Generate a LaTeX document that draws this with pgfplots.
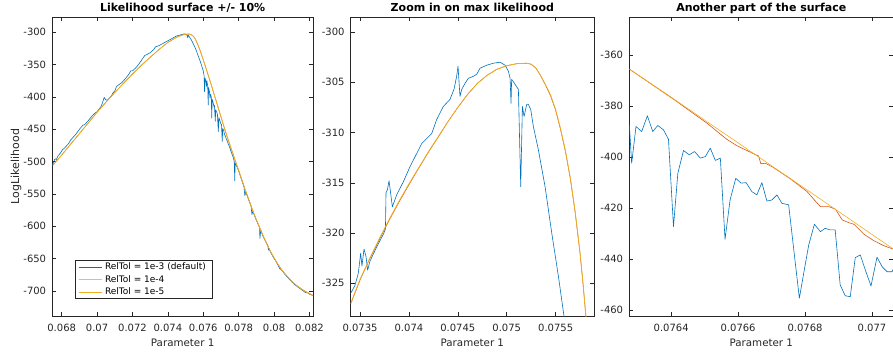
\documentclass[border=0pt]{standalone}
\usepackage{pgfplots}
\pgfplotsset{compat=1.18}
\usepackage{fontspec}
\setmainfont{DejaVu Sans}
\definecolor{mblue}{rgb}{0,0.447,0.741}
\definecolor{morange}{rgb}{0.85,0.325,0.098}
\definecolor{myellow}{rgb}{0.929,0.694,0.125}
\definecolor{axgray}{rgb}{0.15,0.15,0.15}

\pgfplotstableread{
x y
0.0675 -506
0.0680 -490
0.0685 -473.5
0.0690 -457
0.0695 -440.5
0.0700 -424
0.0705 -408.5
0.0710 -393.5
0.0715 -379
0.0720 -365
0.0725 -351.5
0.0730 -339
0.0735 -327
0.0740 -316
0.0745 -308
0.0748 -304.8
0.0750 -303.4
0.0752 -303.1
0.0753 -303.8
0.0754 -305.5
0.0755 -308.5
0.0756 -313.5
0.0757 -320
0.0758 -327
0.0760 -343
0.0762 -360
0.0764 -377
0.0766 -395
0.0768 -413
0.0770 -431
0.0772 -449
0.0774 -466
0.0776 -482
0.0778 -498
0.0780 -514
0.0782 -530
0.0784 -546
0.0786 -561
0.0788 -576
0.0790 -590
0.0792 -603
0.0794 -616
0.0796 -628
0.0798 -639
0.0800 -649
0.0802 -658
0.0804 -666
0.0806 -673
0.0808 -679
0.0810 -685
0.0812 -690
0.0814 -694
0.0816 -698
0.0818 -701
0.0820 -704
0.0822 -707
}\smoothA

\pgfplotstableread{
x y
0.06750 -505
0.06755 -501
0.06760 -497
0.06765 -496
0.06770 -497
0.06780 -491
0.06790 -488
0.06800 -484
0.06805 -481
0.06810 -481
0.06820 -478
0.06830 -475
0.06840 -472
0.06850 -467
0.06860 -464
0.06870 -461
0.06880 -458
0.06890 -454
0.06910 -447
0.06920 -444
0.06930 -443
0.06950 -437
0.06970 -430
0.06990 -425
0.07000 -423
0.07020 -416
0.07030 -410
0.07040 -401
0.07050 -405
0.07060 -405
0.07080 -399
0.07090 -394
0.07100 -391
0.07110 -384
0.07120 -382
0.07140 -378
0.07160 -372
0.07180 -365
0.07190 -360
0.07200 -360
0.07220 -355
0.07240 -348
0.07260 -340
0.07270 -336
0.07280 -335
0.07300 -332
0.07320 -327
0.07330 -323
0.07350 -321
0.07370 -318
0.07390 -315
0.07410 -312
0.07430 -309
0.07450 -306
0.07470 -304.5
0.07490 -303
0.07500 -303.2
0.07505 -304
0.07510 -306
0.07512 -309
0.07515 -304.5
0.07520 -307
0.07530 -311
0.07540 -316
0.07550 -322
0.07560 -328
0.07570 -336
0.07580 -343
0.07590 -351
0.07595 -356
0.07600 -360
0.07605 -368
0.07607 -392
0.07610 -371
0.07615 -377
0.07618 -384
0.07620 -375
0.07625 -383
0.07628 -413
0.07630 -386
0.07635 -392
0.07638 -402
0.07640 -396
0.07645 -400
0.07648 -433
0.07650 -404
0.07655 -408
0.07660 -415
0.07663 -413
0.07668 -438
0.07670 -420
0.07675 -423
0.07680 -427
0.07685 -454
0.07688 -432
0.07693 -436
0.07698 -441
0.07703 -443
0.07707 -469
0.07710 -449
0.07715 -452
0.07720 -458
0.07725 -461
0.07730 -465
0.07735 -468
0.07740 -472
0.07745 -475
0.07750 -479
0.07755 -483
0.07760 -487
0.07770 -494
0.07775 -500
0.07778 -530
0.07780 -503
0.07790 -508
0.07800 -514
0.07810 -523
0.07820 -531
0.07830 -539
0.07835 -553
0.07840 -547
0.07850 -554
0.07860 -562
0.07870 -569
0.07875 -582
0.07880 -577
0.07890 -584
0.07900 -591
0.07910 -597
0.07918 -602
0.07920 -619
0.07925 -606
0.07930 -610
0.07940 -617
0.07950 -622
0.07965 -630
0.07968 -637
0.07970 -634
0.07980 -640
0.07990 -645
0.08000 -650
0.08010 -654
0.08020 -659
0.08033 -666
0.08040 -667
0.08050 -670
0.08060 -674
0.08070 -677
0.08080 -680
0.08100 -686
0.08120 -691
0.08140 -695
0.08150 -697
0.08160 -699
0.08180 -703
0.08190 -703
0.08200 -705
0.08220 -707
}\blueA

\pgfplotstableread{
x y
0.073405 -327.0
0.07350 -324.6
0.07360 -322.5
0.07370 -320.5
0.07380 -318.6
0.07390 -316.8
0.07400 -315.1
0.07410 -313.5
0.07420 -311.9
0.07430 -310.4
0.07440 -308.9
0.07450 -307.5
0.07460 -306.2
0.07470 -305.1
0.07480 -304.3
0.07490 -303.7
0.07500 -303.35
0.07510 -303.15
0.07520 -303.1
0.07525 -303.2
0.07530 -303.6
0.07535 -304.4
0.07540 -305.3
0.07545 -306.3
0.07550 -307.7
0.07555 -309.6
0.07560 -311.8
0.07565 -314.5
0.07570 -317.9
0.07575 -322.0
0.07578 -325.0
0.07581 -328.4
}\yellowB

\pgfplotstableread{
x y
0.073405 -327.05
0.07350 -324.7
0.07360 -322.55
0.07370 -320.6
0.07380 -318.7
0.07390 -316.9
0.07400 -315.2
0.07410 -313.55
0.07420 -311.95
0.07430 -310.45
0.07440 -308.9
0.07450 -307.5
0.07460 -306.2
0.07470 -305.1
0.07480 -304.3
0.07490 -303.7
0.07500 -303.35
0.07510 -303.15
0.07520 -303.1
0.07525 -303.2
0.07530 -303.6
0.07535 -304.4
0.07540 -305.35
0.07545 -306.4
0.07550 -307.8
0.07555 -309.7
0.07560 -311.9
0.07565 -314.6
0.07570 -318.0
0.07575 -322.1
0.07578 -325.1
0.07581 -328.4
}\orangeB

\pgfplotstableread{
x y
0.073405 -326.0
0.073449 -325.2
0.073483 -324.0
0.073507 -322.0
0.073520 -323.3
0.073541 -321.6
0.073561 -322.3
0.073578 -323.7
0.073602 -322.8
0.073670 -321.4
0.073740 -320.1
0.073760 -319.6
0.073766 -316.0
0.073780 -315.7
0.073797 -314.8
0.073831 -317.4
0.073875 -316.2
0.073943 -314.9
0.074011 -313.4
0.074079 -312.1
0.074131 -311.1
0.074182 -310.6
0.074233 -310.1
0.074284 -308.7
0.074352 -307.4
0.074420 -306.7
0.074461 -305.7
0.074488 -304.4
0.074502 -303.4
0.074522 -306.4
0.074540 -305.7
0.074574 -305.1
0.074608 -304.6
0.074659 -304.4
0.074693 -304.2
0.074727 -303.6
0.074795 -303.3
0.074863 -303.1
0.074932 -303.0
0.074983 -303.3
0.075017 -303.9
0.075034 -304.6
0.075044 -307.1
0.075050 -304.7
0.075085 -305.2
0.075119 -305.7
0.075143 -315.4
0.075160 -307.4
0.075177 -308.4
0.075204 -307.2
0.075221 -307.2
0.075245 -307.7
0.075272 -309.4
0.075323 -311.7
0.075392 -315.4
0.075460 -320.0
0.075528 -324.3
0.075590 -328.6
}\blueB

\pgfplotstableread{
x y
0.076275 -365.6
0.0764 -376.6
0.0765 -385.6
0.0766 -394.5
0.0767 -403.5
0.0768 -412.4
0.0769 -421.4
0.0770 -430.4
0.077065 -436.2
}\yellowC

\pgfplotstableread{
x y
0.076275 -365.6
0.076407 -377.4
0.076507 -386.8
0.076537 -390.0
0.076566 -393.1
0.076596 -395.6
0.076626 -397.5
0.076653 -399.2
0.076661 -399.6
0.076668 -402.7
0.076681 -402.5
0.076701 -403.8
0.076756 -408.6
0.076806 -413.6
0.076828 -416.9
0.076846 -419.5
0.076871 -419.5
0.076891 -420.5
0.076911 -424.7
0.076931 -425.8
0.076946 -426.4
0.076976 -430.3
0.077005 -432.8
0.077035 -434.8
0.077065 -436.2
}\orangeC

\pgfplotstableread{
x y
0.076275 -387.1
0.076282 -402.5
0.076295 -388.1
0.076312 -390.1
0.076329 -383.9
0.076345 -390.1
0.076360 -387.7
0.076377 -389.4
0.076392 -393.1
0.076407 -427.3
0.076420 -406.4
0.076437 -397.5
0.076454 -399.2
0.076470 -397.9
0.076487 -400.5
0.076502 -399.9
0.076517 -396.6
0.076532 -401.4
0.076547 -400.5
0.076561 -432.3
0.076576 -416.9
0.076593 -408.4
0.076609 -410.3
0.076624 -410.1
0.076641 -413.6
0.076656 -414.9
0.076671 -410.1
0.076686 -417.3
0.076701 -416.9
0.076716 -414.9
0.076731 -418.2
0.076751 -418.8
0.076783 -455.4
0.076796 -445.6
0.076811 -434.5
0.076828 -426.4
0.076846 -429.3
0.076860 -428.0
0.076875 -428.6
0.076890 -428.6
0.076905 -450.2
0.076920 -454.4
0.076935 -454.8
0.076950 -439.5
0.076965 -438.4
0.076980 -444.3
0.076997 -450.6
0.077015 -439.3
0.077030 -443.0
0.077045 -445.0
0.077060 -445.0
0.077065 -443.7
}\blueC

\begin{document}
\begin{tikzpicture}
\pgfplotsset{
  mstyle/.style={
    scale only axis, anchor=south west, height=299pt,
    axis line style={draw=axgray, line width=0.5pt},
    every tick/.style={draw=axgray, line width=0.5pt},
    major tick length=4pt, tick align=inside,
    xtick pos=both, ytick pos=both,
    xticklabel pos=bottom, yticklabel pos=left,
    ticklabel style={font=\fontsize{10}{12}\selectfont, text=axgray},
    xticklabel style={anchor=base, yshift=-15.5pt, inner sep=0pt},
    yticklabel style={anchor=east, xshift=-6pt, inner sep=0pt},
    every axis title shift=0pt,
    title style={font=\bfseries\fontsize{11}{13}\selectfont, at={(0.5,1.0184)}, anchor=base, text=black},
    xlabel={Parameter 1},
    xlabel style={font=\fontsize{10.3}{12}\selectfont, text=axgray, at={(axis description cs:0.5,-0.1027)}, anchor=base},
    no markers, clip=true,
    every axis plot/.append style={line width=0.6pt, line join=round},
    scaled ticks=false,
  }
}
% Panel 1
\begin{axis}[mstyle, at={(52.3pt,38pt)}, width=260.7pt,
  xmin=0.06747, xmax=0.0822, ymin=-738.7, ymax=-276.8,
  xtick={0.068,0.07,0.072,0.074,0.076,0.078,0.08,0.082},
  xticklabels={0.068,0.07,0.072,0.074,0.076,0.078,0.08,0.082},
  ytick={-700,-650,-600,-550,-500,-450,-400,-350,-300},
  yticklabels={-700,-650,-600,-550,-500,-450,-400,-350,-300},
  title={Likelihood surface +/- 10\%},
  ylabel={LogLikelihood},
  ylabel style={font=\fontsize{11}{13}\selectfont, text=axgray, at={(axis description cs:-0.1277,0.5)}, anchor=base},
  legend image code/.code={\draw[line width=0.6pt,#1] (0pt,0pt) -- (23.4pt,0pt);},
  legend cell align=left,
  legend style={at={(axis description cs:0.0871,0.0569)}, anchor=south west,
    draw=axgray, line width=0.5pt, fill=white,
    font=\fontsize{9}{10.8}\selectfont, inner xsep=3.2pt, inner ysep=0.7pt,
    row sep=0pt, column sep=0pt,
    nodes={inner xsep=2.6pt, inner ysep=1.5pt, text height=7pt, text depth=2.2pt}},
]
\addplot[mblue, forget plot] table[x=x,y=y] {\blueA};
\addplot[morange, line width=0.5pt, forget plot] table[x=x,y=y] {\smoothA};
\addplot[myellow, line width=0.75pt, forget plot] table[x=x,y=y] {\smoothA};
\addlegendimage{mblue}
\addlegendimage{morange!45, line width=2pt}
\addlegendimage{myellow}
\legend{RelTol = 1e-3 (default), RelTol = 1e-4, RelTol = 1e-5}
\end{axis}
% Panel 2
\begin{axis}[mstyle, at={(350.7pt,38pt)}, width=243.3pt,
  xmin=0.073405, xmax=0.075892, ymin=-328.26, ymax=-298.5,
  xtick={0.0735,0.074,0.0745,0.075,0.0755},
  xticklabels={0.0735,0.074,0.0745,0.075,0.0755},
  ytick={-325,-320,-315,-310,-305,-300},
  yticklabels={-325,-320,-315,-310,-305,-300},
  title={Zoom in on max likelihood},
]
\addplot[mblue] table[x=x,y=y] {\blueB};
\addplot[morange, line width=0.55pt] table[x=x,y=y] {\orangeB};
\addplot[myellow, line width=0.7pt] table[x=x,y=y] {\yellowB};
\end{axis}
% Panel 3
\begin{axis}[mstyle, at={(629.3pt,38pt)}, width=264pt,
  xmin=0.076275, xmax=0.0770637, ymin=-462.35, ymax=-345.2,
  xtick={0.0764,0.0766,0.0768,0.077},
  xticklabels={0.0764,0.0766,0.0768,0.077},
  ytick={-460,-440,-420,-400,-380,-360},
  yticklabels={-460,-440,-420,-400,-380,-360},
  title={Another part of the surface},
]
\addplot[mblue] table[x=x,y=y] {\blueC};
\addplot[morange] table[x=x,y=y] {\orangeC};
\addplot[myellow] table[x=x,y=y] {\yellowC};
\end{axis}
\pgfresetboundingbox
\path[use as bounding box] (0pt,0pt) rectangle (893pt,354pt);
\end{tikzpicture}
\end{document}
